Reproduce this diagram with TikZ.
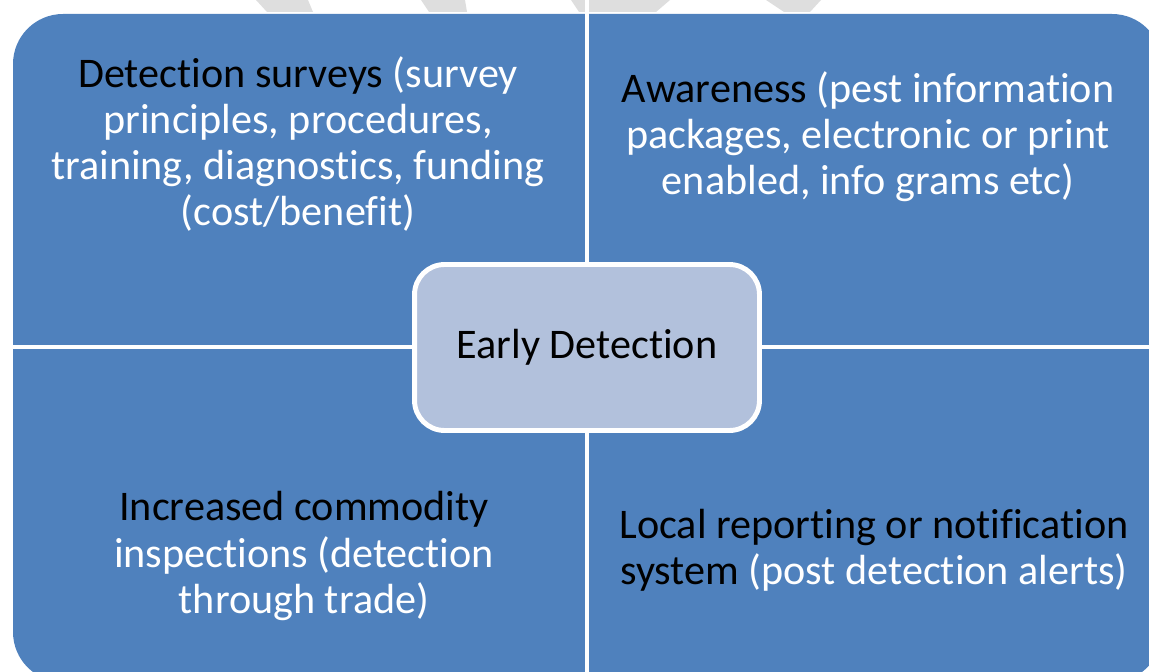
\documentclass[tikz,border=0pt]{standalone}
\usepackage{fontspec}
\setmainfont{Carlito}[Ligatures={NoCommon}]
\usepackage{xcolor}
\usetikzlibrary{positioning}
\definecolor{quadblue}{HTML}{4F81BD}
\definecolor{hubfill}{HTML}{B2C1DC}
\definecolor{markgray}{HTML}{DEDEDE}

\begin{document}
\begin{tikzpicture}[
        x=0.02cm, y=-0.02cm,
        every node/.style={align=center, font=\fontsize{24}{26.2}\selectfont},
        quadtext/.style={text=white},
        gap/.style={draw=white, line width=2.8pt},
        hub/.style={draw=white, line width=2.8pt, fill=hubfill, rounded corners=0.6cm, minimum width=6.9cm, minimum height=3.32cm}
    ]
        \useasboundingbox (0,0) rectangle (1149,672);
        \clip (0,0) rectangle (1149,672);

        % Faint marks above the matrix
        \fill[markgray] (256,0) -- (308,0) -- (313,12) -- (267,12) -- cycle;
        \fill[markgray] (421,0) -- (465,0) -- (467,12) -- (429,12) -- cycle;
        \fill[markgray] (571,0) -- (670,0) -- (656,12) -- (579,12) -- cycle;
        \fill[markgray] (766,0) -- (821,0) -- (810,12) -- (784,12) -- cycle;

        % Matrix background
        \fill[quadblue, rounded corners=1cm] (13,14) rectangle (1162,682);

        % Gaps between the quadrants
        \coordinate (gapN) at (587,0);
        \coordinate (gapS) at (587,680);
        \coordinate (gapW) at (0,347);
        \coordinate (gapE) at (1149,347);
        \draw[gap] (gapN) -- (gapS);
        \draw[gap] (gapW) -- (gapE);

        % Quadrant texts
        \node[quadtext] (survey) at (298,144) {\textcolor{black}{Detection surveys} (survey\\ principles, procedures,\\ training, diagnostics, funding\\ (cost/benefit)};
        \node[quadtext] (aware) at (868,137) {\textcolor{black}{Awareness} (pest information\\ packages, electronic or print\\ enabled, info grams etc)};
        \node[quadtext] (inspect) at (304,556) {\textcolor{black}{Increased commodity}\\ inspections (detection\\ through trade)};
        \node[quadtext] (report) at (874,550) {\textcolor{black}{Local reporting or notification}\\ \textcolor{black}{system} (post detection alerts)};

        % Centre node
        \node[hub] (hub) at (587,347.5) {Early Detection};
    \end{tikzpicture}
\end{document}
